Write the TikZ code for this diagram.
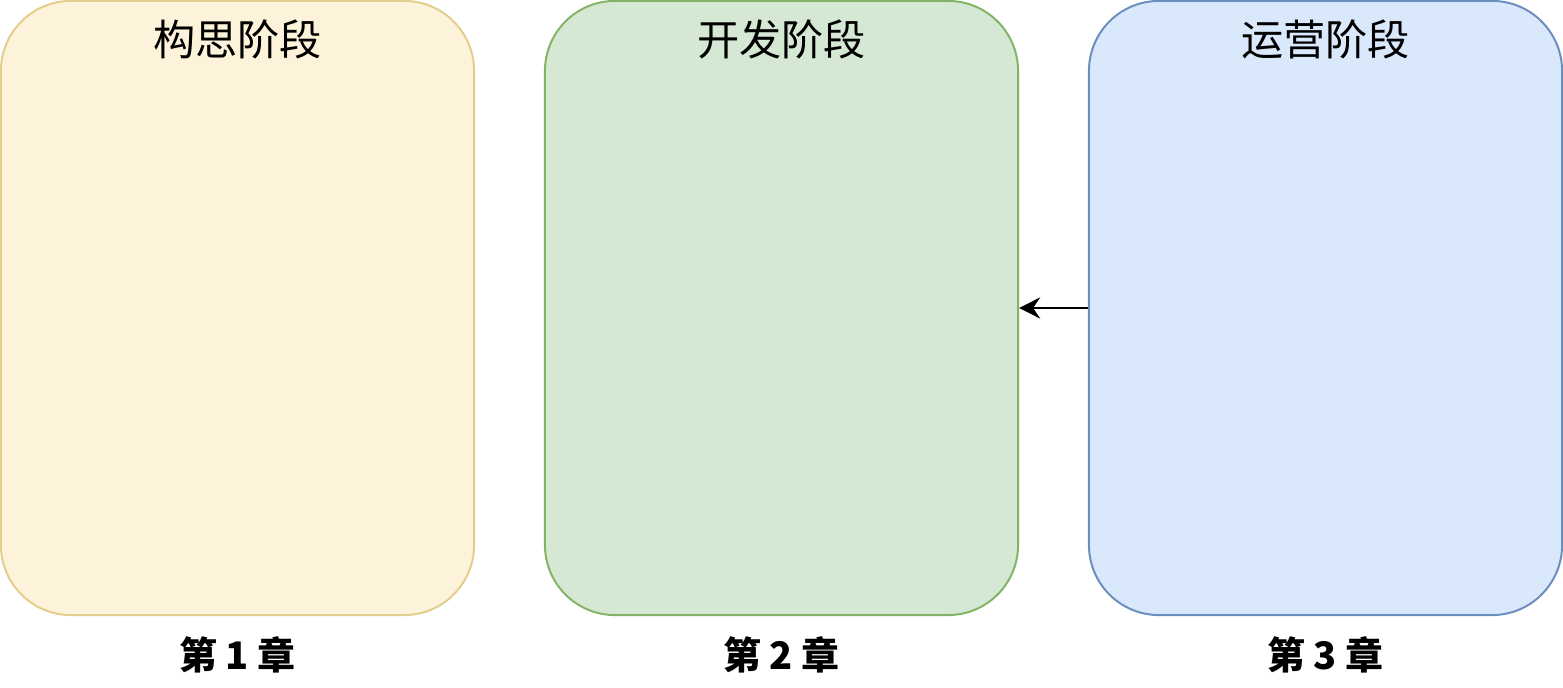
\documentclass[tikz,border=0pt]{standalone}
\usepackage{fontspec}
\newfontfamily\cjk{Noto Sans CJK SC}
\usepackage{xcolor}
\usetikzlibrary{arrows.meta, positioning}

\definecolor{ideafill}{HTML}{FDF3DA}
\definecolor{idealine}{HTML}{E3CD8C}
\definecolor{devfill}{HTML}{D5E8D4}
\definecolor{devline}{HTML}{82B366}
\definecolor{opsfill}{HTML}{DAE8FC}
\definecolor{opsline}{HTML}{6C8EBF}

\begin{document}
\begin{tikzpicture}[x=0.025cm, y=-0.025cm,
  phase/.style={draw, line width=1.4pt, rounded corners=1.75cm,
    minimum width=11.825cm, minimum height=15.35cm, inner sep=0pt},
  title/.style={font=\cjk\fontsize{30}{30}\selectfont, inner sep=0pt},
  chap/.style={font=\cjk\bfseries\fontsize{27}{27}\selectfont, inner sep=0pt}]
\useasboundingbox (0,0) rectangle (1563,688);

\node[phase, fill=ideafill, draw=idealine] (idea) at (237.5,308) {};
\node[phase, fill=devfill, draw=devline] (dev) at (781.5,308) {};
\node[phase, fill=opsfill, draw=opsline] (ops) at (1325.5,308) {};

\node[title, below=0.5cm of idea.north] (ideaT) {构思阶段};
\node[title, below=0.5cm of dev.north] (devT) {开发阶段};
\node[title, below=0.5cm of ops.north] (opsT) {运营阶段};

\node[chap, below=0.5cm of idea.south] (ch1) {第 1 章};
\node[chap, below=0.5cm of dev.south] (ch2) {第 2 章};
\node[chap, below=0.5cm of ops.south] (ch3) {第 3 章};

\draw[-{Stealth[length=15pt, width=15pt, inset=5pt]}, line width=1.4pt] (ops.west) -- (dev.east);

\end{tikzpicture}
\end{document}
